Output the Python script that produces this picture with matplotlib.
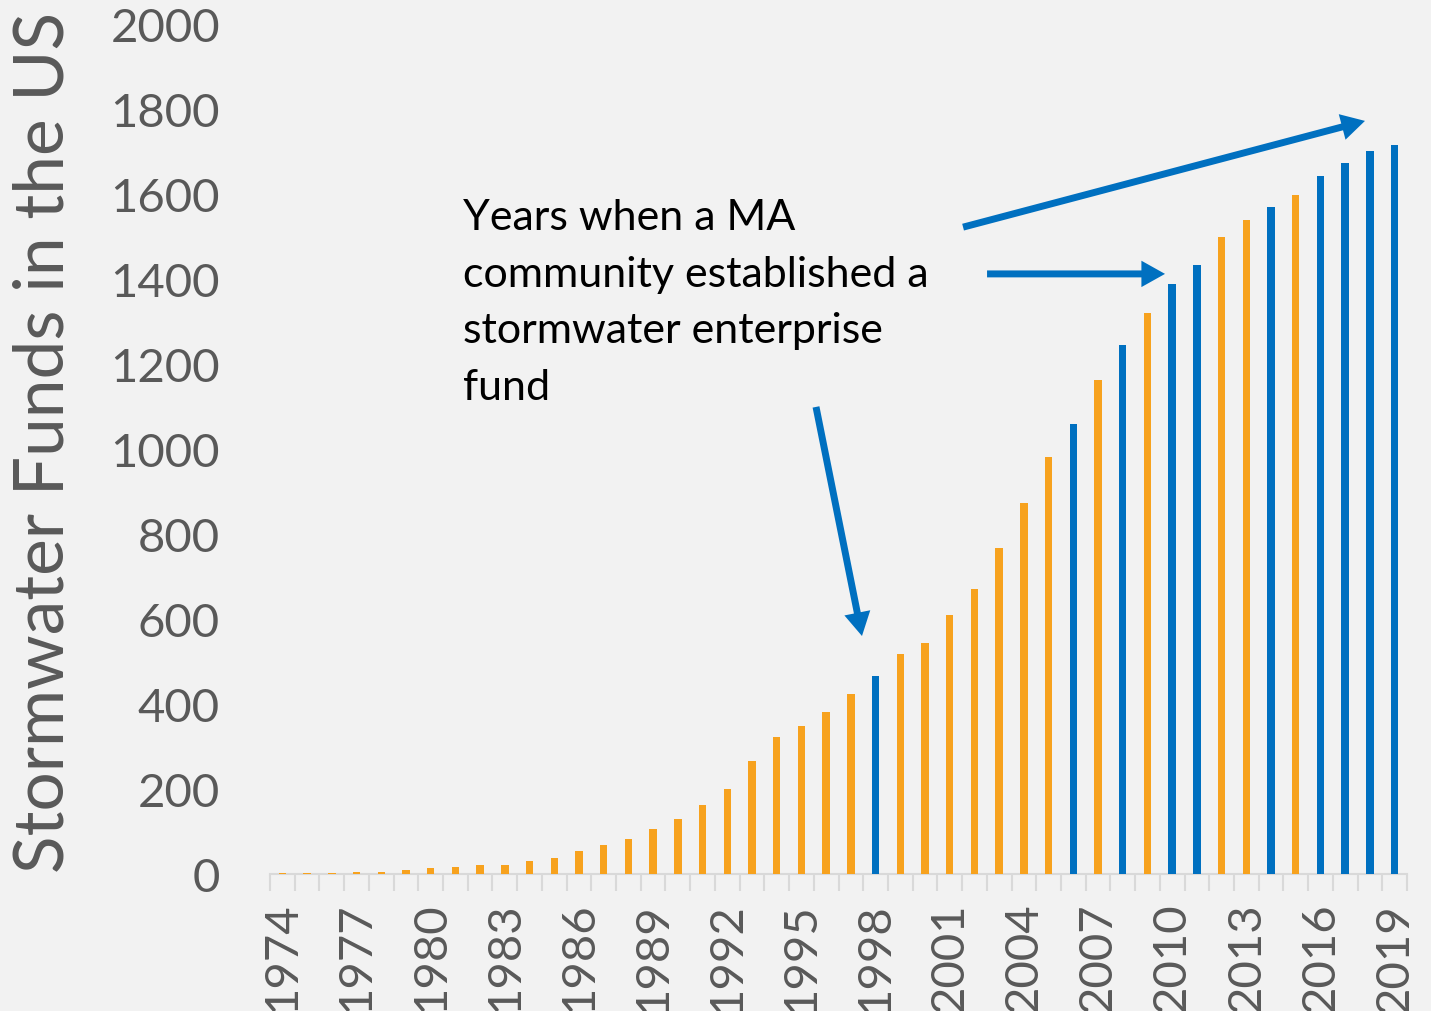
import matplotlib
matplotlib.use("Agg")
import matplotlib.pyplot as plt
from matplotlib.ticker import FixedLocator

years = list(range(1974, 2020))
funds = [2, 2, 2, 5, 5, 9, 14, 17, 21, 21, 31, 38, 54, 68, 82, 107,
         129, 162, 200, 266, 322, 348, 381, 424, 466, 518, 544, 609, 671, 767,
         873, 981, 1059, 1162, 1245, 1319, 1388, 1433, 1499, 1539, 1569, 1598,
         1642, 1673, 1701, 1715]
ma_years = [1998, 2006, 2008, 2010, 2011, 2014, 2016, 2017, 2018, 2019]
label_years = years[::3]

ORANGE = "#F7A21E"
BLUE = "#0070C0"
BG = "#F2F2F2"
GREY = "#595959"
FONT = ["Lato", "DejaVu Sans"]

plt.rcParams['font.family'] = FONT

fig = plt.figure(figsize=(14.31, 10.12), dpi=100, facecolor=BG)
ax = fig.add_axes([270/1431, 1 - 875/1012, 1137/1431, 850/1012], facecolor=BG)

x = list(range(len(years)))
colors = [BLUE if y in ma_years else ORANGE for y in years]
ax.bar(x, funds, width=0.3, color=colors, zorder=3)

ax.set_xlim(-0.5, len(years) - 0.5)
ax.set_ylim(0, 2000)
ax.set_yticks(range(0, 2001, 200))
ax.tick_params(axis='y', length=0, pad=36, labelsize=34, labelcolor=GREY)

ax.set_xticks([years.index(y) for y in label_years])
ax.set_xticklabels([str(y) for y in label_years], rotation=90, fontsize=34, color=GREY)
ax.tick_params(axis='x', which='major', length=0, pad=20)
ax.xaxis.set_minor_locator(FixedLocator([i - 0.5 for i in range(len(years) + 1)]))
ax.tick_params(axis='x', which='minor', length=12, width=1.5, color="#D9D9D9")

for s in ['top', 'right', 'left']:
    ax.spines[s].set_visible(False)
ax.spines['bottom'].set_color("#D9D9D9")
ax.spines['bottom'].set_linewidth(1.5)

ax.set_ylabel("Stormwater Funds in the US", fontsize=50, color=GREY)
ax.yaxis.set_label_coords(-0.1715, 0.509)

ax.text(7.31, 1590, "Years when a MA\ncommunity established a\nstormwater enterprise\nfund",
        fontsize=31, color="black", va='top', ha='left', linespacing=1.6, zorder=5)

arrow_kw = dict(width=5, headwidth=19, headlength=17, shrink=0,
                facecolor=BLUE, edgecolor=BLUE, lw=0)
ax.annotate("", xy=(43.80, 1772), xytext=(27.54, 1522), arrowprops=arrow_kw, zorder=6)
ax.annotate("", xy=(35.71, 1412), xytext=(28.51, 1412), arrowprops=arrow_kw, zorder=6)
ax.annotate("", xy=(23.45, 560), xytext=(21.59, 1099), arrowprops=arrow_kw, zorder=6)

fig.savefig("out.png", dpi=100, facecolor=BG)
